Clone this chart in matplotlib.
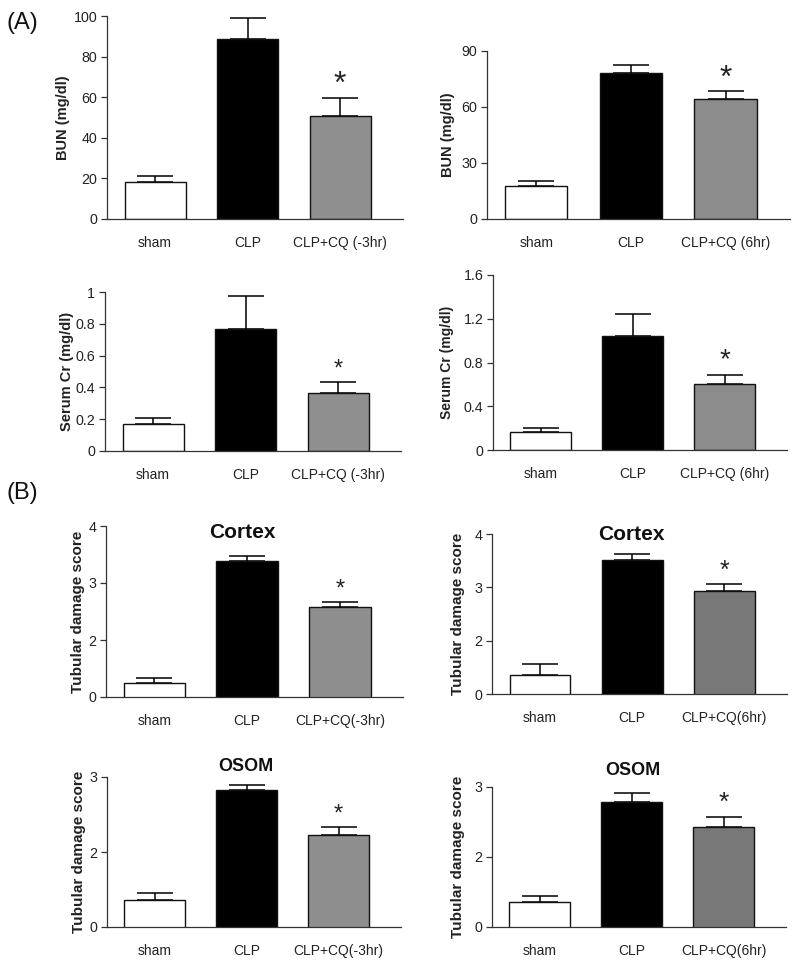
import matplotlib
matplotlib.use('Agg')
import matplotlib.pyplot as plt
import numpy as np

plt.rcParams['font.family'] = ['Liberation Sans', 'DejaVu Sans']

# -----------------------------
# data
# -----------------------------
groups_pre = ['sham', 'CLP', 'CLP+CQ (-3hr)']
groups_post = ['sham', 'CLP', 'CLP+CQ (6hr)']
groups_pre_b = ['sham', 'CLP', 'CLP+CQ(-3hr)']
groups_post_b = ['sham', 'CLP', 'CLP+CQ(6hr)']

bun_pre = [18.4, 88.9, 50.5]
bun_pre_err = [2.9, 10.0, 9.3]
bun_post = [17.9, 78.0, 64.1]
bun_post_err = [2.3, 4.7, 4.6]

cr_pre = [0.168, 0.767, 0.367]
cr_pre_err = [0.040, 0.206, 0.069]
cr_post = [0.164, 1.040, 0.608]
cr_post_err = [0.040, 0.204, 0.082]

# damage score axes start at 1 but the bottom tick is labelled "0"
cortex_pre = [1.245, 3.382, 2.578]
cortex_pre_err = [0.093, 0.099, 0.094]
cortex_post = [1.352, 3.516, 2.925]
cortex_post_err = [0.208, 0.100, 0.138]

osom_pre = [1.358, 2.823, 2.226]
osom_pre_err = [0.089, 0.071, 0.110]
osom_post = [1.357, 2.781, 2.433]
osom_post_err = [0.091, 0.129, 0.143]

W, H = 800, 964
fig = plt.figure(figsize=(W / 100, H / 100), dpi=100)


def px_axes(l, b, r, t):
    return fig.add_axes([l / W, 1 - b / H, (r - l) / W, (b - t) / H])


def bar_panel(rect, vals, errs, labels, ylim, yticks, yticklabels, ylabel,
              ylab_dist, cq_color, star_size, star_off=1, title=None,
              title_pos=None, title_size=15, ylab_size=10.5):
    ax = px_axes(*rect)
    x = np.arange(len(vals))
    colors = ['white', 'black', cq_color]
    ax.errorbar(x, vals, yerr=[np.zeros(len(vals)), errs], fmt='none',
                ecolor='black', elinewidth=1.1, capsize=13, capthick=1.1, zorder=1)
    ax.bar(x, vals, width=0.66, color=colors, edgecolor='#111111',
           linewidth=1.0, zorder=2)
    ax.annotate('*', (2, vals[2] + errs[2]), xytext=(0, star_off),
                textcoords='offset points', ha='center', va='bottom',
                fontsize=star_size, color='#222222')
    ax.set_xlim(-0.52, 2.68)
    ax.set_ylim(*ylim)
    ax.set_yticks(yticks)
    ax.set_yticklabels(yticklabels)
    ax.set_xticks(x)
    ax.set_xticklabels(labels)
    for s in ['top', 'right']:
        ax.spines[s].set_visible(False)
    for s in ['left', 'bottom']:
        ax.spines[s].set_color('#333333')
        ax.spines[s].set_linewidth(0.9)
    ax.tick_params(axis='y', direction='out', length=4, width=0.9,
                   color='#333333', labelsize=10.3, labelcolor='#222222', pad=3)
    ax.tick_params(axis='x', length=0, labelsize=10, labelcolor='#222222', pad=12)
    ax.set_ylabel(ylabel, fontsize=ylab_size, fontweight='bold', va='center',
                  color='#222222')
    ax.yaxis.set_label_coords(-ylab_dist / (rect[2] - rect[0]), 0.5)
    if title:
        ax.text(title_pos[0], title_pos[1], title, transform=ax.transAxes,
                ha='center', va='center', fontsize=title_size, fontweight='bold',
                color='#111111')
    return ax


# (A) renal function
bar_panel((107, 219, 403, 16), bun_pre, bun_pre_err, groups_pre,
          (0, 100), [0, 20, 40, 60, 80, 100], ['0', '20', '40', '60', '80', '100'],
          'BUN (mg/dl)', 44, '#8f8f8f', 23, star_off=-2, ylab_size=10.5)
bar_panel((487, 219, 790, 51), bun_post, bun_post_err, groups_post,
          (0, 90), [0, 30, 60, 90], ['0', '30', '60', '90'],
          'BUN (mg/dl)', 39, '#8c8c8c', 23, star_off=-2, ylab_size=10.5)
bar_panel((105, 451, 401, 292), cr_pre, cr_pre_err, groups_pre,
          (0, 1), [0, 0.2, 0.4, 0.6, 0.8, 1], ['0', '0.2', '0.4', '0.6', '0.8', '1'],
          'Serum Cr (mg/dl)', 38, '#8f8f8f', 17)
bar_panel((493, 450, 787, 275), cr_post, cr_post_err, groups_post,
          (0, 1.6), [0, 0.4, 0.8, 1.2, 1.6], ['0', '0.4', '0.8', '1.2', '1.6'],
          'Serum Cr (mg/dl)', 46, '#8c8c8c', 20, ylab_size=10)

# (B) tubular damage
bar_panel((106, 697, 403, 526), cortex_pre, cortex_pre_err, groups_pre_b,
          (1, 4), [1, 2, 3, 4], ['0', '2', '3', '4'],
          'Tubular damage score', 28, '#8e8e8e', 17,
          title='Cortex', title_pos=(0.458, 0.96), title_size=15, ylab_size=11)
bar_panel((492, 694, 787, 534), cortex_post, cortex_post_err, groups_post_b,
          (1, 4), [1, 2, 3, 4], ['0', '2', '3', '4'],
          'Tubular damage score', 34, '#787878', 18,
          title='Cortex', title_pos=(0.474, 1.0), title_size=15, ylab_size=11)
bar_panel((107, 927, 401, 777), osom_pre, osom_pre_err, groups_pre_b,
          (1, 3), [1, 2, 3], ['0', '2', '3'],
          'Tubular damage score', 28, '#8e8e8e', 17,
          title='OSOM', title_pos=(0.473, 1.07), title_size=13, ylab_size=11)
bar_panel((492, 927, 786, 787), osom_post, osom_post_err, groups_post_b,
          (1, 3), [1, 2, 3], ['0', '2', '3'],
          'Tubular damage score', 34, '#787878', 19,
          title='OSOM', title_pos=(0.48, 1.115), title_size=13, ylab_size=11)

fig.text(7 / W, 1 - 23 / H, '(A)', fontsize=17, va='center', ha='left', color='#111111')
fig.text(7 / W, 1 - 493 / H, '(B)', fontsize=17, va='center', ha='left', color='#111111')

fig.savefig('out.png', dpi=100)
